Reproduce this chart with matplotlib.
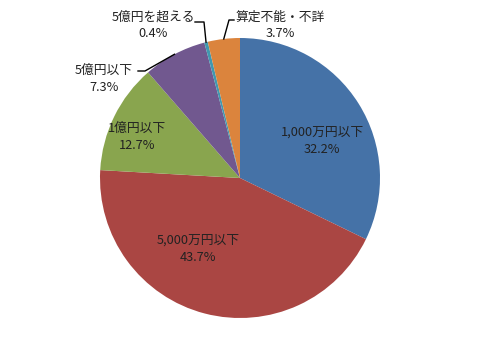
import matplotlib.pyplot as plt
import numpy as np

plt.rcParams['font.family'] = ['Noto Sans CJK JP', 'DejaVu Sans']

labels = ['1,000万円以下', '5,000万円以下', '1億円以下', '5億円以下', '5億円を超える', '算定不能・不詳']
values = [32.2, 43.7, 12.7, 7.3, 0.4, 3.7]
colors = ['#4572A7', '#AA4643', '#89A54E', '#71588F', '#4198AF', '#DB843D']

fig = plt.figure(figsize=(4.8, 3.57), dpi=100)
ax = fig.add_axes([0, 0, 1, 1])
R = 140  # pie radius in pixels

wedges, _ = ax.pie(values, colors=colors, startangle=90, counterclock=False,
                   radius=1, wedgeprops=dict(linewidth=0))
ax.set_xlim(-240 / R, 240 / R)
ax.set_ylim(-179 / R, 178 / R)
ax.axis('off')

# label positions (data units)
label_pos = [(0.586, 0.264), (-0.30, -0.507), (-0.736, 0.293),
             (-0.972, 0.71), (-0.621, 1.09), (0.29, 1.09)]
for lab, v, (x, y) in zip(labels, values, label_pos):
    ax.text(x, y, f'{lab}\n{v}%', ha='center', va='center', fontsize=9.2,
            color='#222222', linespacing=1.4)

# leader lines for outside labels: elbow points in pixels, then to the wedge edge
leaders = {3: ((138, 71), (145, 71)),
           4: ((195, 22), (204, 22)),
           5: ((234, 20), (229, 20))}
for i, (p0, p1) in leaders.items():
    w = wedges[i]
    ang = np.deg2rad((w.theta1 + w.theta2) / 2)
    xs = [(p0[0] - 240) / R, (p1[0] - 240) / R, np.cos(ang)]
    ys = [(178 - p0[1]) / R, (178 - p1[1]) / R, np.sin(ang)]
    ax.plot(xs, ys, color='black', lw=1)

fig.savefig('out.png', dpi=100, facecolor='white')
